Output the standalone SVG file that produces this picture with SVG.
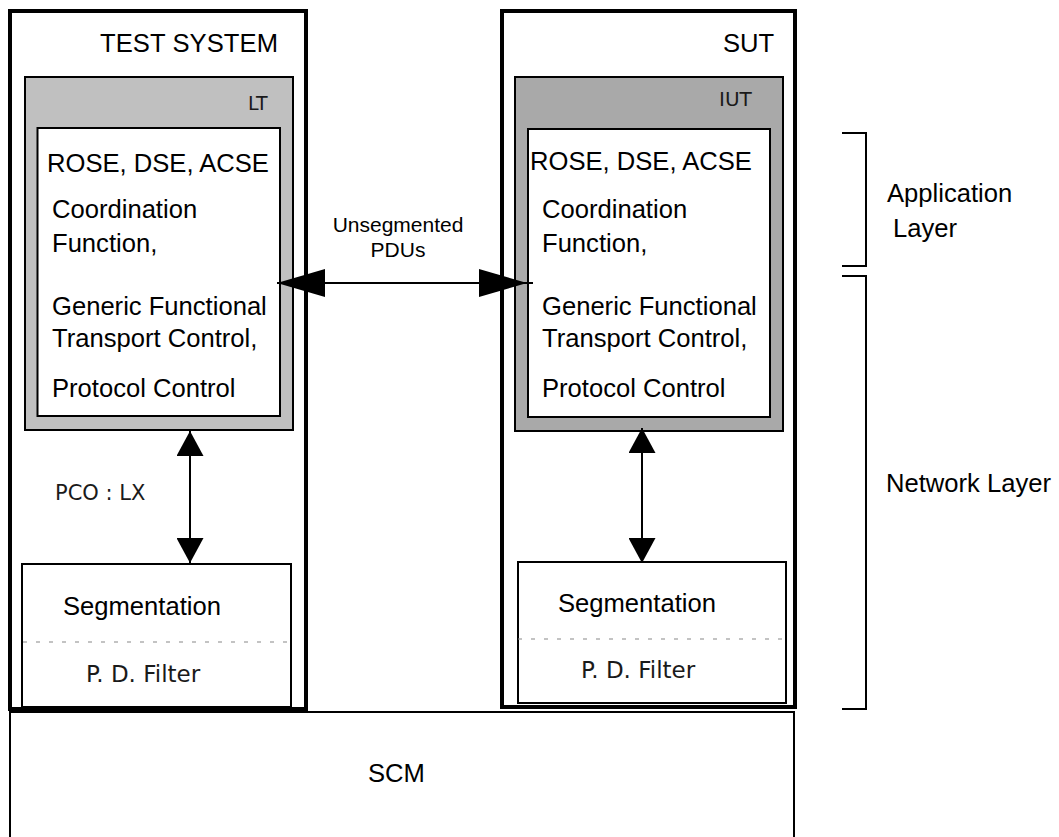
<svg xmlns="http://www.w3.org/2000/svg" width="1059" height="837" viewBox="0 0 1059 837">
  <style>
    .t { font-family: "Liberation Sans", Arial, sans-serif; font-size: 25.6px; fill: #000; }
    .g { font-family: "DejaVu Sans", "Liberation Sans", sans-serif; fill: #1a1a1a; }
    .outer { fill: #fff; stroke: #000; stroke-width: 4; }
    .box { fill: #fff; stroke: #000; stroke-width: 2; }
    .dash { stroke: #888; stroke-width: 1.2; stroke-dasharray: 4 9; fill: none; }
    .conn { stroke: #000; stroke-width: 2; fill: none; }
    .br { stroke: #000; stroke-width: 2; fill: none; }
  </style>
  <defs>
    <marker id="ah" markerUnits="userSpaceOnUse" viewBox="0 0 48 28" refX="48" refY="14" markerWidth="48" markerHeight="28" orient="auto-start-reverse">
      <path d="M0,0 L48,14 L0,28 z" fill="#000"/>
    </marker>
    <marker id="av" markerUnits="userSpaceOnUse" viewBox="0 0 25 27" refX="25" refY="13.5" markerWidth="25" markerHeight="27" orient="auto-start-reverse">
      <path d="M0,0 L25,13.5 L0,27 z" fill="#000"/>
    </marker>
  </defs>
  <rect width="1059" height="837" fill="#fff"/>

  <g id="scm">
    <rect class="box" x="10" y="712" width="784" height="140"/>
    <text class="t" x="368" y="782">SCM</text>
  </g>

  <g id="test-system">
    <rect class="outer" x="10" y="11" width="296" height="698"/>
    <text class="t" x="100" y="52" textLength="178">TEST SYSTEM</text>
  </g>
  <g id="lt">
    <rect x="25" y="77" width="268" height="353" fill="#c0c0c0" stroke="#000" stroke-width="2"/>
    <text class="g" x="248" y="110" font-size="19">LT</text>
  </g>
  <g id="lt-functions">
    <rect class="box" x="37.5" y="128" width="242.5" height="288"/>
    <text class="t" x="47" y="172">ROSE, DSE, ACSE</text>
    <text class="t" x="52" y="218">Coordination</text>
    <text class="t" x="52" y="252">Function,</text>
    <text class="t" x="52" y="315">Generic Functional</text>
    <text class="t" x="52" y="347">Transport Control,</text>
    <text class="t" x="52" y="397">Protocol Control</text>
  </g>
  <g id="lt-segmentation">
    <rect class="box" x="22" y="564" width="269" height="143"/>
    <text class="t" x="63" y="615">Segmentation</text>
    <line class="dash" x1="23" y1="642" x2="290" y2="642"/>
    <text class="g" x="86" y="682" font-size="23">P. D. Filter</text>
  </g>

  <g id="sut">
    <rect class="outer" x="502" y="11" width="293" height="696"/>
    <text class="t" x="723" y="52">SUT</text>
  </g>
  <g id="iut">
    <rect x="515" y="77" width="268" height="354" fill="#a9a9a9" stroke="#000" stroke-width="2"/>
    <text class="g" x="719" y="106" font-size="20">IUT</text>
  </g>
  <g id="iut-functions">
    <rect class="box" x="528" y="129" width="242" height="288"/>
    <text class="t" x="530" y="170">ROSE, DSE, ACSE</text>
    <text class="t" x="542" y="218">Coordination</text>
    <text class="t" x="542" y="252">Function,</text>
    <text class="t" x="542" y="315">Generic Functional</text>
    <text class="t" x="542" y="347">Transport Control,</text>
    <text class="t" x="542" y="397">Protocol Control</text>
  </g>
  <g id="iut-segmentation">
    <rect class="box" x="518" y="562" width="268" height="141"/>
    <text class="t" x="558" y="612">Segmentation</text>
    <line class="dash" x1="518" y1="639" x2="785" y2="639"/>
    <text class="g" x="581" y="678" font-size="23">P. D. Filter</text>
  </g>

  <g id="connectors">
    <line class="conn" x1="277" y1="283" x2="527" y2="283" marker-start="url(#ah)" marker-end="url(#ah)"/>
    <line class="conn" x1="527" y1="283" x2="533" y2="283"/>
    <line class="conn" x1="190" y1="431" x2="190" y2="563" marker-start="url(#av)" marker-end="url(#av)"/>
    <line class="conn" x1="642" y1="428" x2="642" y2="563" marker-start="url(#av)" marker-end="url(#av)"/>
    <text class="t" x="398" y="232" text-anchor="middle" style="font-size:21px">Unsegmented</text>
    <text class="t" x="398" y="257" text-anchor="middle" style="font-size:21px">PDUs</text>
    <text class="g" x="55" y="500" font-size="21">PCO : LX</text>
  </g>

  <g id="layers">
    <path class="br" d="M842,133 H866 V266 H842"/>
    <path class="br" d="M842,276 H866 V709 H842"/>
    <text class="t" x="887" y="202">Application</text>
    <text class="t" x="893" y="237">Layer</text>
    <text class="t" x="886" y="492">Network Layer</text>
  </g>
</svg>
